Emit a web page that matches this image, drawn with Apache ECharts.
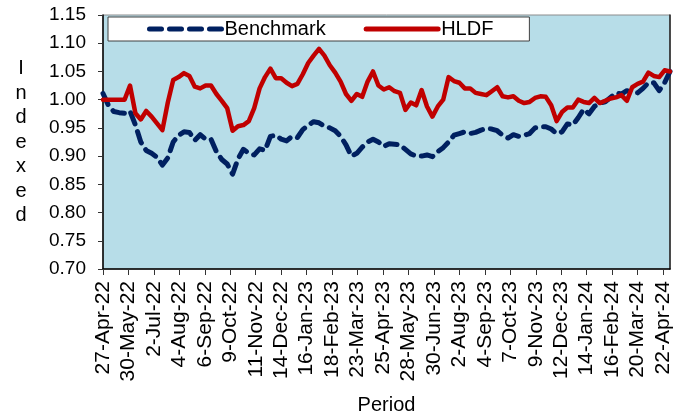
<!DOCTYPE html>
<html>
<head>
<meta charset="utf-8">
<script src="https://cdn.jsdelivr.net/npm/echarts@6/dist/echarts.min.js"></script>
<style>
html,body{margin:0;padding:0;background:#fff;}
#chart{width:684px;height:416px;}
</style>
</head>
<body>
<div id="chart"></div>
<script>
// X axis: days since 27-Apr-22; ticks every 33 days
const tickLabels = ['27-Apr-22','30-May-22','2-Jul-22','4-Aug-22','6-Sep-22','9-Oct-22','11-Nov-22','14-Dec-22','16-Jan-23','18-Feb-23','23-Mar-23','25-Apr-23','28-May-23','30-Jun-23','2-Aug-23','4-Sep-23','7-Oct-23','9-Nov-23','12-Dec-23','14-Jan-24','16-Feb-24','20-Mar-24','22-Apr-24'];
const tickStepDays = 33;
const sampleStepDays = 7;   // weekly samples starting 27-Apr-22
const lastDay = 735;

const yTicks = [0.70,0.75,0.80,0.85,0.90,0.95,1.00,1.05,1.10,1.15];

const benchmark = [
1.011,0.990,0.979,0.977,0.976,0.980,0.955,0.925,0.910,0.905,
0.898,0.884,0.897,0.925,0.937,0.943,0.942,0.928,0.938,0.930,
0.930,0.908,0.894,0.886,0.868,0.895,0.912,0.905,0.902,0.913,
0.910,0.935,0.937,0.930,0.927,0.935,0.933,0.947,0.955,0.961,
0.959,0.953,0.950,0.945,0.935,0.920,0.900,0.905,0.916,0.925,
0.930,0.925,0.917,0.922,0.921,0.920,0.912,0.904,0.900,0.900,
0.902,0.899,0.908,0.915,0.925,0.937,0.940,0.943,0.940,0.942,
0.946,0.949,0.948,0.945,0.937,0.932,0.938,0.935,0.937,0.940,
0.950,0.952,0.952,0.948,0.940,0.943,0.957,0.955,0.968,0.983,
0.975,0.988,0.994,0.996,1.004,1.012,1.010,1.016,1.013,1.012,
1.020,1.030,1.030,1.016,1.030,1.050
];

const hldf = [
1.000,1.000,1.000,1.000,1.000,1.025,0.976,0.965,0.980,0.970,
0.958,0.946,0.995,1.035,1.040,1.047,1.042,1.023,1.020,1.025,
1.025,1.010,0.998,0.985,0.945,0.953,0.955,0.962,0.985,1.020,
1.040,1.055,1.038,1.038,1.030,1.024,1.028,1.045,1.065,1.078,
1.090,1.078,1.061,1.048,1.032,1.010,0.998,1.010,1.005,1.032,
1.050,1.025,1.018,1.022,1.015,1.012,0.982,0.995,0.990,1.017,
0.988,0.970,0.988,1.000,1.040,1.033,1.030,1.020,1.020,1.012,
1.010,1.008,1.015,1.022,1.006,1.004,1.006,0.998,0.994,0.996,
1.003,1.006,1.005,0.990,0.962,0.978,0.986,0.986,1.000,0.996,
0.994,1.003,0.994,0.998,1.002,1.004,1.008,0.998,1.022,1.028,
1.032,1.048,1.042,1.040,1.052,1.050
];

const FONT = "'Liberation Sans', Arial, sans-serif";
const chart = echarts.init(document.getElementById('chart'));

chart.setOption({
  animation: false,
  backgroundColor: '#ffffff',
  textStyle: { fontFamily: FONT, color: '#000' },
  grid: {
    left: 103, right: 14, top: 15, bottom: 147,
    containLabel: false, outerBoundsMode: 'none',
    show: true, backgroundColor: '#B7DDE8', borderColor: '#8c8c8c', borderWidth: 1
  },
  legend: {
    left: 108, top: 17,
    padding: [2, 36, 2, 39],
    backgroundColor: '#ffffff',
    borderColor: '#404040', borderWidth: 1,
    itemGap: 38, itemWidth: 72, itemHeight: 14,
    itemStyle: { opacity: 0 },
    lineStyle: { width: 5, cap: 'round' },
    textStyle: { fontFamily: FONT, fontSize: 20, color: '#000', padding: [0, 0, 0, -2] },
    data: ['Benchmark', 'HLDF']
  },
  xAxis: {
    type: 'value',
    min: 0, max: lastDay, interval: tickStepDays,
    name: 'Period', nameLocation: 'middle', nameGap: 126,
    nameTextStyle: { fontFamily: FONT, fontSize: 20, color: '#000' },
    axisLine: { show: true, lineStyle: { color: '#000', width: 1.5 } },
    axisTick: { show: true, length: 6, lineStyle: { color: '#333', width: 1 } },
    splitLine: { show: false },
    axisLabel: {
      rotate: 90, margin: 12, fontSize: 21, color: '#000', fontFamily: FONT,
      showMaxLabel: false,
      formatter: function (v) {
        const i = Math.round(v / tickStepDays);
        if (Math.abs(i * tickStepDays - v) > 1e-6) return '';
        return tickLabels[i] || '';
      }
    }
  },
  yAxis: [{
    type: 'value',
    min: yTicks[0], max: yTicks[yTicks.length - 1], interval: 0.05,
    name: 'I\nn\nd\ne\nx\ne\nd', nameLocation: 'middle', nameRotate: 0, nameGap: 82,
    nameTextStyle: { fontFamily: FONT, fontSize: 20, color: '#000', lineHeight: 24.5, align: 'center', padding: [0, 0, 10, 0] },
    axisLine: { show: true, lineStyle: { color: '#000', width: 1.5 } },
    axisTick: { show: true, length: 5, lineStyle: { color: '#333' } },
    splitLine: { show: false },
    axisLabel: { margin: 17, fontSize: 19, color: '#000', fontFamily: FONT,
      formatter: v => v.toFixed(2) }
  }, {
    type: 'value', position: 'right',
    min: yTicks[0], max: yTicks[yTicks.length - 1],
    axisLine: { show: true, lineStyle: { color: '#222', width: 1.5 } },
    axisTick: { show: false }, axisLabel: { show: false }, splitLine: { show: false }
  }],
  series: [{
    name: 'Benchmark', type: 'line', symbol: 'none', smooth: false,
    data: benchmark.map((v, i) => [i * sampleStepDays, v]),
    color: '#002060',
    lineStyle: { color: '#002060', width: 5, type: [12, 8], cap: 'round', join: 'round' },
    z: 2
  }, {
    name: 'HLDF', type: 'line', symbol: 'none', smooth: false,
    data: hldf.map((v, i) => [i * sampleStepDays, v]),
    color: '#C00000',
    lineStyle: { color: '#C00000', width: 4.5, cap: 'round', join: 'round' },
    z: 3
  }]
});
</script>
</body>
</html>
